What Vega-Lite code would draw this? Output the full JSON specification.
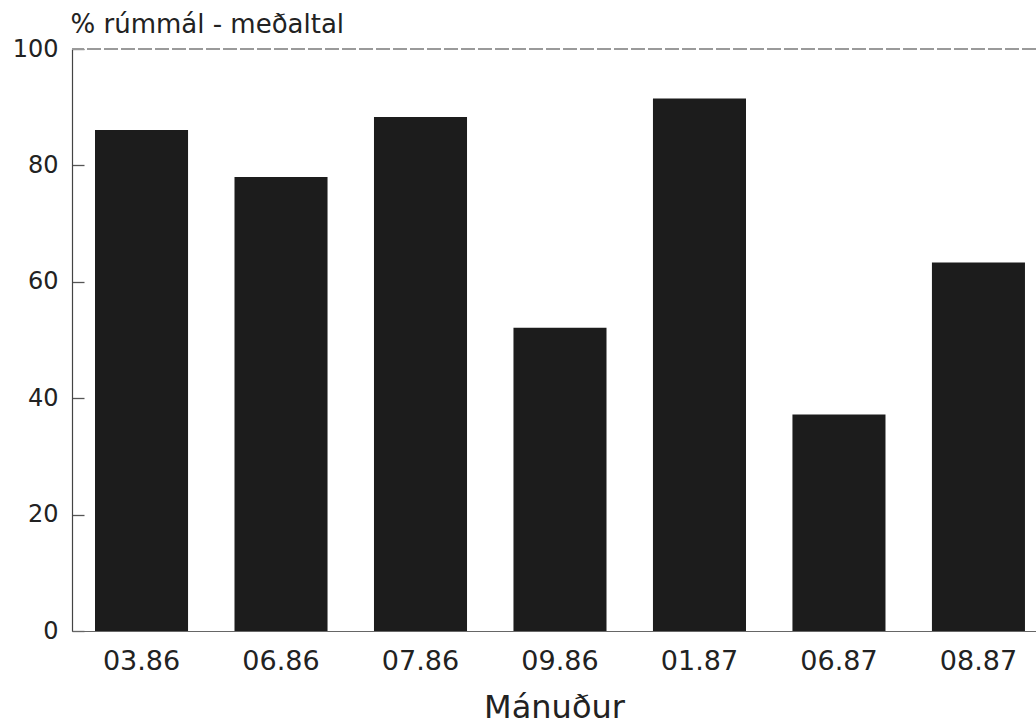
{
  "$schema": "https://vega.github.io/schema/vega-lite/v6.json",
  "autosize": {"type": "none"},
  "padding": {"left": 72, "top": 49, "right": 0, "bottom": 94},
  "width": 964,
  "height": 582,
  "background": "white",
  "config": {
    "view": {"stroke": null},
    "font": "DejaVu Sans"
  },
  "data": {
    "values": [
      {"month": "03.86", "value": 86.1},
      {"month": "06.86", "value": 78.0},
      {"month": "07.86", "value": 88.3},
      {"month": "09.86", "value": 52.1},
      {"month": "01.87", "value": 91.5},
      {"month": "06.87", "value": 37.2},
      {"month": "08.87", "value": 63.3}
    ]
  },
  "layer": [
    {
      "mark": {"type": "bar", "color": "#1c1c1c"},
      "encoding": {
        "x": {
          "field": "month",
          "type": "ordinal",
          "sort": null,
          "scale": {"paddingInner": 0.333, "paddingOuter": 0.122, "align": 0.676},
          "axis": {
            "title": "Mánuður",
            "titleFont": "DejaVu Sans",
            "titleFontSize": 32,
            "titleFontWeight": "normal",
            "titleColor": "#222",
            "titlePadding": 18,
            "labelAngle": 0,
            "labelFont": "DejaVu Sans",
            "labelFontSize": 27,
            "labelColor": "#222",
            "labelPadding": 17,
            "ticks": false,
            "domainColor": "#666",
            "domainWidth": 1.2
          }
        },
        "y": {
          "field": "value",
          "type": "quantitative",
          "scale": {"domain": [0, 100], "nice": false},
          "axis": {
            "values": [0, 20, 40, 60, 80, 100],
            "grid": true,
            "gridColor": "#555",
            "gridWidth": 1.3,
            "gridDash": [12, 3000],
            "gridOpacity": 1,
            "ticks": false,
            "title": "% rúmmál - meðaltal",
            "titleAngle": 0,
            "titleAlign": "left",
            "titleBaseline": "alphabetic",
            "titleX": -2,
            "titleY": -17,
            "titleFont": "DejaVu Sans",
            "titleFontSize": 26,
            "titleFontWeight": "normal",
            "titleColor": "#222",
            "labelFont": "DejaVu Sans",
            "labelFontSize": 24,
            "labelColor": "#222",
            "labelPadding": 14,
            "domainColor": "#444",
            "domainWidth": 1.2
          }
        }
      }
    },
    {
      "mark": {"type": "rule", "color": "#999", "strokeWidth": 1.2, "strokeDash": [14, 3]},
      "encoding": {"y": {"datum": 100}}
    }
  ]
}
